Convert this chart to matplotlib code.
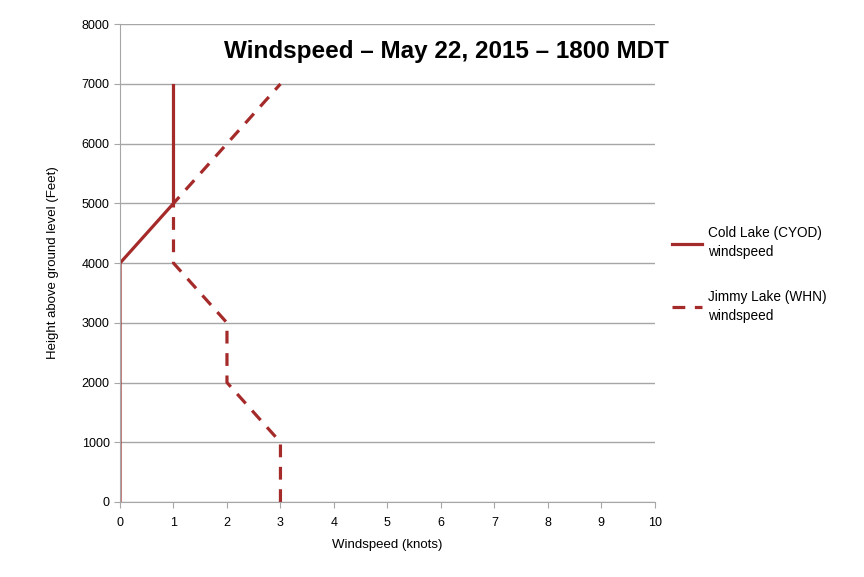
import matplotlib.pyplot as plt
from matplotlib.lines import Line2D

plt.rcParams['font.family'] = ['Liberation Sans', 'DejaVu Sans']

# Height above ground level (feet)
heights = [0, 1000, 2000, 3000, 4000, 5000, 6000, 7000]
# Windspeed (knots)
cold_lake = [0, 0, 0, 0, 0, 1, 1, 1]
jimmy_lake = [3, 3, 2, 2, 1, 1, 2, 3]

red = '#a52a2a'
grey = '#a6a6a6'

fig = plt.figure(figsize=(8.64, 5.77), dpi=100)
ax = fig.add_axes([0.1389, 0.130, 0.619, 0.828])

ax.plot(cold_lake, heights, color=red, lw=2.3, solid_capstyle='butt')
ax.plot(jimmy_lake, heights, color=red, lw=2.3, dashes=(4, 3))

ax.set_xlim(0, 10)
ax.set_ylim(0, 8000)
ax.set_xticks(range(0, 11))
ax.set_yticks(range(0, 8001, 1000))
ax.grid(axis='y', color=grey, lw=1)
ax.set_axisbelow(True)
for s in ['top', 'right']:
    ax.spines[s].set_visible(False)
for s in ['left', 'bottom']:
    ax.spines[s].set_color(grey)
ax.tick_params(colors=grey, labelcolor='black', labelsize=9, length=4)
ax.tick_params(axis='x', pad=7)

ax.set_xlabel('Windspeed (knots)', fontsize=9.5, labelpad=7)
ax.set_ylabel('Height above ground level (Feet)', fontsize=9.5, labelpad=16)

ax.text(0.61, 0.943, 'Windspeed – May 22, 2015 – 1800 MDT', transform=ax.transAxes,
        ha='center', va='center', fontsize=17.5, fontweight='bold')

handles = [Line2D([], [], color=red, lw=2.3),
           Line2D([], [], color=red, lw=2.3, dashes=(4, 3))]
labels = ['Cold Lake (CYOD)\nwindspeed', 'Jimmy Lake (WHN)\nwindspeed']
leg = fig.legend(handles, labels, loc='upper left', bbox_to_anchor=(0.767, 0.624),
                 frameon=False, fontsize=9.8, handlelength=2.2, labelspacing=2.25,
                 handletextpad=0.4, borderpad=0.2)
for t in leg.get_texts():
    t.set_linespacing(1.45)

fig.savefig('out.png', dpi=100)
